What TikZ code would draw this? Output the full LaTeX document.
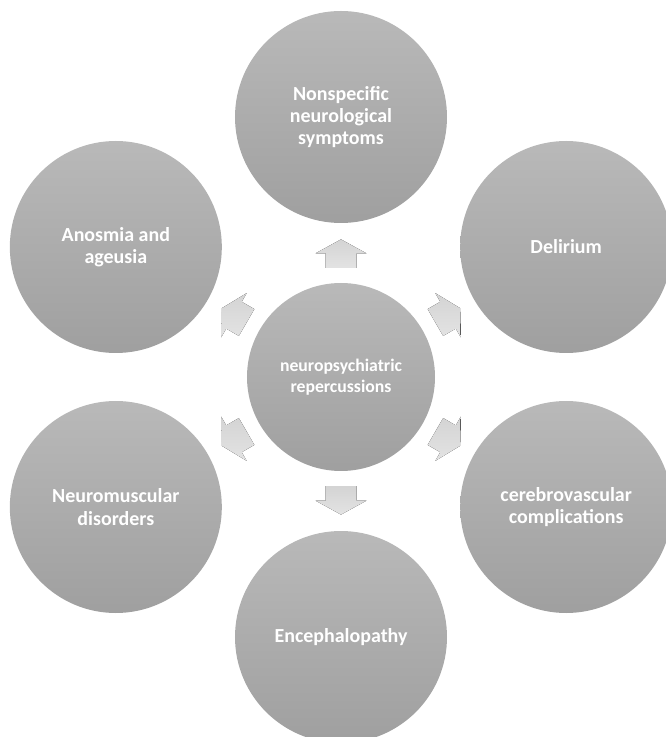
\documentclass[tikz,border=0pt]{standalone}
\usepackage{fontspec}
\setmainfont{Carlito}

\tikzset{
  topic/.style={circle, minimum size=5.3cm, inner sep=0pt, align=center,
    top color=gray!55, bottom color=gray!75, text=white,
    font=\fontsize{14.2}{15.9}\selectfont\bfseries},
  hubnode/.style={topic, minimum size=4.7cm,
    font=\fontsize{12.6}{14.6}\selectfont\bfseries},
  blockarrow/.style={top color=gray!34, bottom color=gray!22}
}

\begin{document}
\begin{tikzpicture}
            \useasboundingbox (-8.525,-9.0) rectangle (8.1,9.425);

            \node[hubnode] (hub) at (0,0) {neuropsychiatric\\repercussions};
            \node[topic] (nonspec) at (90:6.5) {Nonspecific\\neurological\\symptoms};
            \node[topic] (delirium) at (30:6.5) {Delirium};
            \node[topic] (cerebro) at (-30:6.5) {cerebrovascular\\complications};
            \node[topic] (enceph) at (-90:6.5) {Encephalopathy};
            \node[topic] (neuromusc) at (-150:6.5) {Neuromuscular\\disorders};
            \node[topic] (anosmia) at (150:6.5) {Anosmia and\\ageusia};

            \foreach \ang in {90,30,-30,-90,-150,150}
              \fill[blockarrow, rotate=\ang] (2.725,-0.3875) -- (3.09,-0.3875) -- (3.09,-0.6375)
                -- (3.44,0) -- (3.09,0.6375) -- (3.09,0.3875) -- (2.725,0.3875) -- cycle;
        \end{tikzpicture}
\end{document}
